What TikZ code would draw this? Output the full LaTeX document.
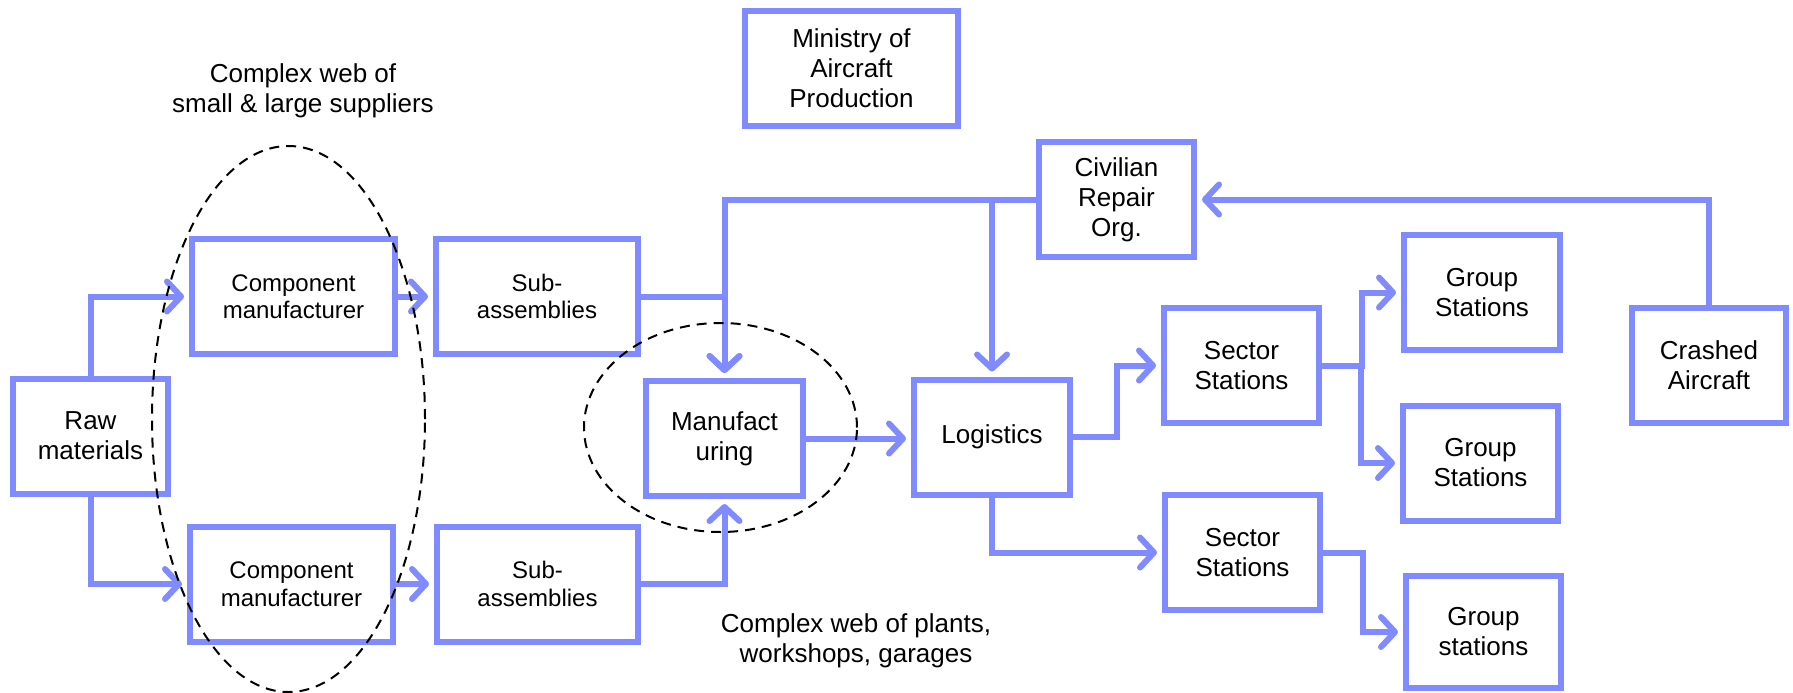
\documentclass[tikz,border=0pt]{standalone}
\usepackage{fontspec}
\setmainfont{Liberation Sans}
\usetikzlibrary{arrows.meta,calc}
\definecolor{flowblue}{RGB}{128,139,255}
\tikzset{
  box/.style={draw=flowblue, line width=6pt, fill=white, inner sep=0pt, align=center,
    minimum width=155pt, minimum height=115pt, font=\fontsize{26}{30}\selectfont},
  smallbox/.style={box, minimum width=203pt, font=\fontsize{24}{27.5}\selectfont},
  flow/.style={draw=flowblue, line width=6pt, shorten >=5pt,
    -{Straight Barb[length=14pt,width=30pt,round]}},
  web/.style={draw=black, line width=2pt, dash pattern=on 10pt off 7pt},
  note/.style={align=center, font=\fontsize{26}{30}\selectfont}
}
\begin{document}
\begin{tikzpicture}[x=1pt,y=-1pt]
    \useasboundingbox (0,0) rectangle (1793,693);
    \node[box] (raw) at (90.5,436) {Raw\\materials};
    \node[smallbox] (comp1) at (293.5,296.5) {Component\\manufacturer};
    \node[smallbox] (comp2) at (291.5,584) {Component\\manufacturer};
    \node[smallbox, minimum width=202pt] (sub1) at (537,296.5) {Sub-\\assemblies};
    \node[smallbox, minimum width=201pt] (sub2) at (537.5,584) {Sub-\\assemblies};
    \node[box, minimum width=157pt] (manu) at (724.5,438.5) {Manufact\\uring};
    \node[box, minimum width=213pt] (ministry) at (851.5,68.5) {Ministry of\\Aircraft\\Production};
    \node[box] (civil) at (1116.5,199.5) {Civilian\\Repair\\Org.};
    \node[box, minimum width=156pt] (logi) at (992,437) {Logistics};
    \node[box] (sect1) at (1241.5,365.5) {Sector\\Stations};
    \node[box] (sect2) at (1242.5,552.5) {Sector\\Stations};
    \node[box, minimum width=156pt] (grp1) at (1482,292.5) {Group\\Stations};
    \node[box] (grp2) at (1480.5,463) {Group\\Stations};
    \node[box, minimum height=112pt] (grp3) at (1483.5,632) {Group\\stations};
    \node[box, minimum width=154pt] (crash) at (1709,365) {Crashed\\Aircraft};
    \node[note] (suppliers) at (303,91) {Complex web of\\small \& large suppliers};
    \node[note] (plants) at (856,641) {Complex web of plants,\\workshops, garages};
    \draw[flow] (raw.north) |- (comp1.west);
    \draw[flow] (raw.south) |- (comp2.west);
    \draw[flow] (comp1.east) -- (sub1.west);
    \draw[flow] (comp2.east) -- (sub2.west);
    \draw[flow] (sub1.east) -| (manu.north);
    \draw[flow] (sub2.east) -| (manu.south);
    \draw[flow] (civil.west) -| (manu.north);
    \draw[flow] (logi.north |- civil.west) -- (logi.north);
    \draw[flow] (manu.east) -- (manu.east -| logi.west);
    \draw[flow] (logi.east) -| ($(logi.east)!0.5!(sect1.west)$) |- (sect1.west);
    \draw[flow] (logi.south) |- (sect2.west);
    \draw[flow] (sect1.east) -| ($(sect1.east)!0.5!(grp1.west)$) |- (grp1.west);
    \draw[flow] (sect1.east) -| ($(sect1.east)!0.5!(grp2.west)$) |- (grp2.west);
    \draw[flow] (sect2.east) -| ($(sect2.east)!0.5!(grp3.west)$) |- (grp3.west);
    \draw[flow] (crash.north) |- (civil.east);
    \draw[web] (288.5,419) ellipse [x radius=136.5pt, y radius=273pt];
    \draw[web] (720.5,427.5) ellipse [x radius=136.5pt, y radius=104.5pt];
\end{tikzpicture}
\end{document}
